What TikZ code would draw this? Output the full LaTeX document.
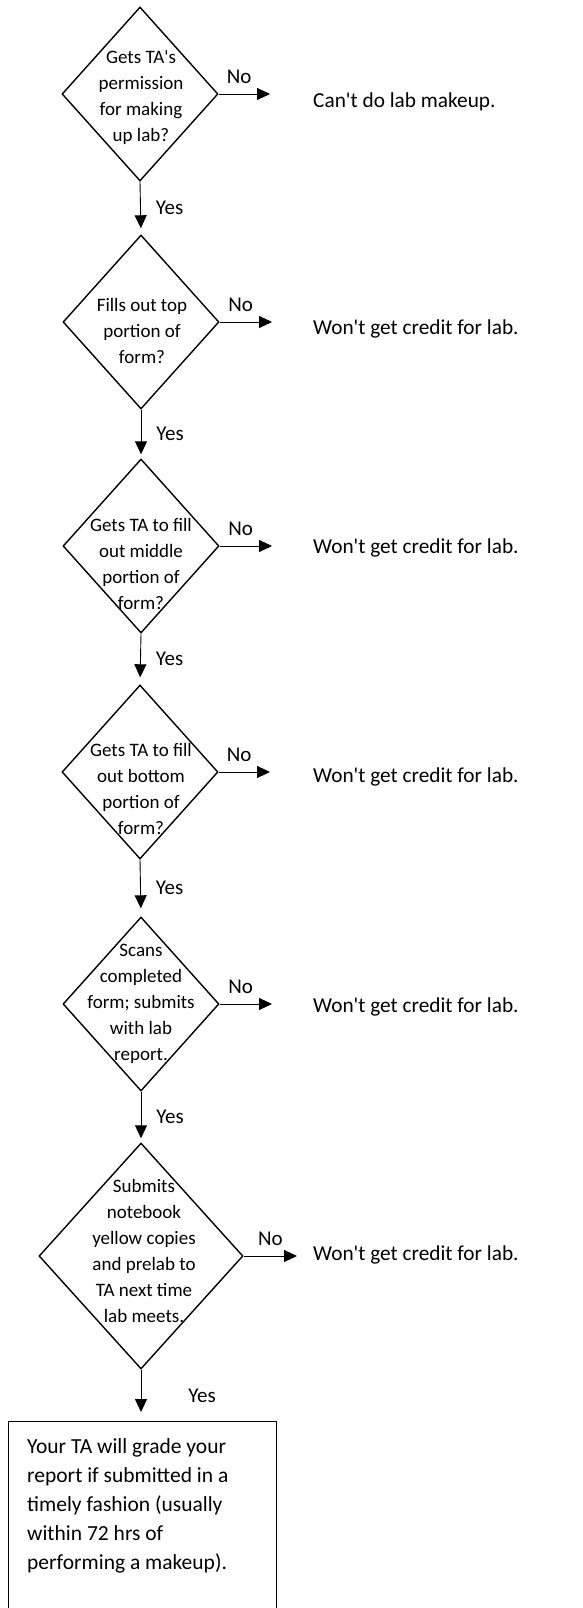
\documentclass[tikz,border=0pt]{standalone}
\usepackage{fontspec}
\setmainfont{Carlito}[Ligatures=TeXOff]
\usetikzlibrary{shapes.geometric,arrows.meta}

\begin{document}
\begin{tikzpicture}[x=1pt, y=-1pt,
            every node/.style={inner sep=0pt},
            decision/.style={diamond, draw, line width=1.4pt, minimum width=156pt, minimum height=174pt},
            edge_style/.style={draw=black, line width=0.9pt, -{Triangle[length=13pt,width=12pt]}}]
            \tikzset{question/.style={align=center, font=\fontsize{19}{26}\selectfont},
                     outcome/.style={anchor=base west, font=\fontsize{21.3}{26}\selectfont},
                     yes label/.style={right=15pt, font=\fontsize{21}{26}\selectfont},
                     no label/.style={above=10pt, pos=0.4, font=\fontsize{21}{26}\selectfont}}
            \useasboundingbox (0,0) rectangle (583,1608);
            % decisions
            \node[decision] (d1) at (140,94) {};
            \node[decision] (d2) at (141,322) {};
            \node[decision] (d3) at (141,546) {};
            \node[decision] (d4) at (140,772) {};
            \node[decision] (d5) at (141,1004) {};
            \node[decision, minimum width=204pt, minimum height=226pt] (d6) at (141,1256) {};
            \node[question] (q1) at (141,98) {Gets TA's\\permission\\for making\\up lab?};
            \node[question] (q2) at (142,331) {Fills out top\\portion of\\form?};
            \node[question] (q3) at (141,564) {Gets TA to fill\\out middle\\portion of\\form?};
            \node[question] (q4) at (141,789) {Gets TA to fill\\out bottom\\portion of\\form?};
            \node[question] (q5) at (141,1004) {Scans\\completed\\form; submits\\with lab\\report.};
            \node[question] (q6) at (144,1251) {Submits\\notebook\\yellow copies\\and prelab to\\TA next time\\lab meets.};
            % outcomes
            \node[outcome] (r1) at (313,108) {Can't do lab makeup.};
            \node[outcome] (r2) at (313,334) {Won't get credit for lab.};
            \node[outcome] (r3) at (313,553) {Won't get credit for lab.};
            \node[outcome] (r4) at (313,782) {Won't get credit for lab.};
            \node[outcome] (r5) at (313,1012) {Won't get credit for lab.};
            \node[outcome] (r6) at (313,1260) {Won't get credit for lab.};
            \coordinate (n1) at (270,94);
            \coordinate (n2) at (272,322);
            \coordinate (n3) at (272,546);
            \coordinate (n4) at (270,772);
            \coordinate (n5) at (272,1004);
            \coordinate (n6) at (297,1256);
            % final box
            \node[draw, line width=0.9pt, minimum width=268pt, minimum height=230pt, anchor=north west] (fin) at (8,1421) {};
            \node[anchor=north west, align=left, font=\fontsize{21.5}{29}\selectfont] (fintext) at (27,1438)
                {Your TA will grade your\\report if submitted in a\\timely fashion (usually\\within 72 hrs of\\performing a makeup).};
            % yes
            \draw [edge_style, shorten >=6pt] (d1.south) -- node[yes label] {Yes} (d2.north);
            \draw [edge_style, shorten >=4pt] (d2.south) -- node[yes label] {Yes} (d3.north);
            \draw [edge_style, shorten >=7pt] (d3.south) -- node[yes label] {Yes} (d4.north);
            \draw [edge_style, shorten >=8pt] (d4.south) -- node[yes label] {Yes} (d5.north);
            \draw [edge_style, shorten >=4pt] (d5.south) -- node[yes label] {Yes} (d6.north);
            \draw [edge_style, shorten >=9pt] (d6.south) -- node[yes label, right=32pt] {Yes} (d6.south |- fin.north);
            % no
            \draw [edge_style] (d1.east) -- node[no label] {No} (n1);
            \draw [edge_style] (d2.east) -- node[no label] {No} (n2);
            \draw [edge_style] (d3.east) -- node[no label] {No} (n3);
            \draw [edge_style] (d4.east) -- node[no label] {No} (n4);
            \draw [edge_style] (d5.east) -- node[no label] {No} (n5);
            \draw [edge_style] (d6.east) -- node[no label, pos=0.5] {No} (n6);
        \end{tikzpicture}
\end{document}
